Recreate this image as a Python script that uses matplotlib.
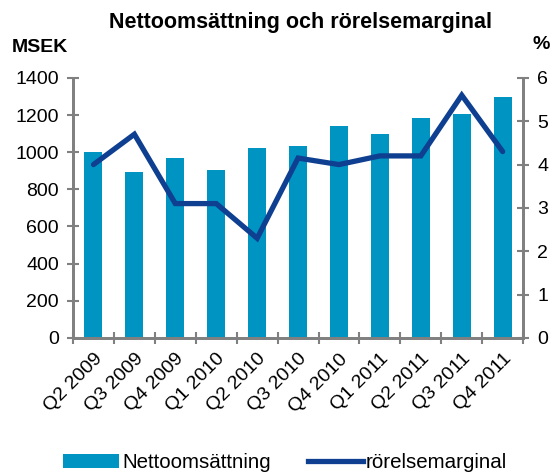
import matplotlib
matplotlib.use("Agg")
import matplotlib.pyplot as plt
from matplotlib.patches import Patch
from matplotlib.lines import Line2D
import numpy as np

plt.rcParams['font.family'] = ['Liberation Sans', 'DejaVu Sans']

quarters = ["Q2 2009", "Q3 2009", "Q4 2009", "Q1 2010", "Q2 2010", "Q3 2010",
            "Q4 2010", "Q1 2011", "Q2 2011", "Q3 2011", "Q4 2011"]
netto = [1000, 895, 970, 905, 1025, 1035, 1140, 1100, 1185, 1205, 1295]
marginal = [4.0, 4.7, 3.1, 3.1, 2.3, 4.15, 4.0, 4.2, 4.2, 5.6, 4.3]

bar_color = "#0094c3"
line_color = "#0f3f90"
axis_gray = "#808080"

fig = plt.figure(figsize=(5.53, 4.72), dpi=100)
ax = fig.add_axes([0.132, 0.284, 0.814, 0.551])
ax2 = ax.twinx()

x = np.arange(len(quarters))
ax.bar(x, netto, width=0.44, color=bar_color, zorder=2)
ax2.plot(x, marginal, color=line_color, linewidth=3.8, solid_capstyle='round',
         solid_joinstyle='miter', zorder=3)

ax.set_xlim(-0.5, len(quarters) - 0.5)
ax.set_ylim(0, 1400)
ax.set_yticks(range(0, 1401, 200))
ax2.set_ylim(0, 6)
ax2.set_yticks(range(0, 7))

# category ticks between bars, labels centered under bars
ax.set_xticks(np.arange(-0.5, len(quarters) + 0.5, 1), minor=False)
ax.set_xticklabels([])
ax.set_xticks(x, minor=True)
ax.set_xticklabels(quarters, minor=True, rotation=45, ha='right',
                   rotation_mode='anchor', fontsize=14)
ax.tick_params(axis='x', which='minor', length=0, pad=9)
ax.tick_params(axis='x', which='major', direction='inout', length=8,
               color=axis_gray, width=1.5)

for a in (ax, ax2):
    a.spines['top'].set_visible(False)
    for s in ('left', 'right', 'bottom'):
        a.spines[s].set_color(axis_gray)
        a.spines[s].set_linewidth(2)

ax.tick_params(axis='y', direction='inout', length=8, color=axis_gray,
               width=1.5, labelsize=14, pad=6)
ax2.tick_params(axis='y', direction='inout', length=8, color=axis_gray,
                width=1.5, labelsize=14, pad=6)

fig.text(0.543, 0.953, "Nettoomsättning och rörelsemarginal", ha='center',
         va='center', fontsize=15.5, fontweight='bold')
fig.text(0.022, 0.9, "MSEK", ha='left', va='center', fontsize=14,
         fontweight='bold')
fig.text(0.978, 0.906, "%", ha='center', va='center', fontsize=14,
         fontweight='bold')

handles = [Patch(facecolor=bar_color, edgecolor='none'),
           Line2D([0], [0], color=line_color, linewidth=3.8)]
fig.legend(handles, ["Nettoomsättning", "rörelsemarginal"], loc='center',
           bbox_to_anchor=(0.516, 0.02), ncol=2, frameon=False, fontsize=14.8,
           handlelength=2.7, handletextpad=0.15, columnspacing=1.8)

fig.savefig("out.png", dpi=100)
